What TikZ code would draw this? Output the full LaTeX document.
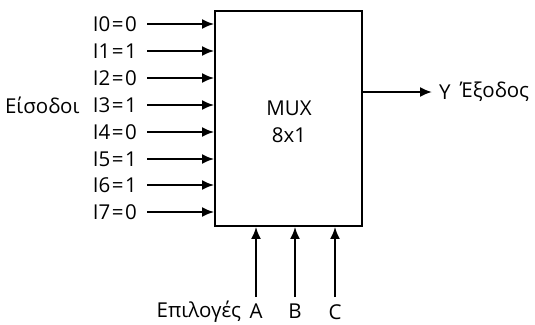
\documentclass[tikz,border=0pt]{standalone}
\usepackage{fontspec}
\setmainfont{Open Sans}
\usetikzlibrary{arrows.meta,positioning}

\begin{document}
\begin{tikzpicture}[
  x=1pt,y=-1pt,
  lbl/.style={inner sep=0pt,font=\fontsize{20.5}{23}\selectfont},
  inp/.style={lbl,anchor=east},
  sel/.style={lbl,anchor=north},
  arr/.style={line width=1.9pt,-{Latex[length=12pt,width=10pt]}}
]
\useasboundingbox (0,0) rectangle (535,324);
% Box
\node[draw,line width=1.9pt,minimum width=147pt,minimum height=215pt,inner sep=0pt] (mux) at (288.5,118.5) {};
\node[lbl] (name) at (289,108.5) {MUX};
\node[lbl,below=11pt of name] (size) {8x1};
% Inputs
\node[inp] (i0) at (137,24) {I0\kern1.5pt=\kern1.5pt0};
\node[inp] (i1) at (137,51) {I1\kern1.5pt=\kern1.5pt1};
\node[inp] (i2) at (137,78) {I2\kern1.5pt=\kern1.5pt0};
\node[inp] (i3) at (137,105) {I3\kern1.5pt=\kern1.5pt1};
\node[inp] (i4) at (137,132) {I4\kern1.5pt=\kern1.5pt0};
\node[inp] (i5) at (137,159) {I5\kern1.5pt=\kern1.5pt1};
\node[inp] (i6) at (137,185) {I6\kern1.5pt=\kern1.5pt1};
\node[inp] (i7) at (137,212) {I7\kern1.5pt=\kern1.5pt0};
\node[lbl,left=13pt of i3.west] (ins) {Είσοδοι};

\draw[arr] ([xshift=10pt]i0.east) -- (i0.east -| mux.west);
\draw[arr] ([xshift=10pt]i1.east) -- (i1.east -| mux.west);
\draw[arr] ([xshift=10pt]i2.east) -- (i2.east -| mux.west);
\draw[arr] ([xshift=10pt]i3.east) -- (i3.east -| mux.west);
\draw[arr] ([xshift=10pt]i4.east) -- (i4.east -| mux.west);
\draw[arr] ([xshift=10pt]i5.east) -- (i5.east -| mux.west);
\draw[arr] ([xshift=10pt]i6.east) -- (i6.east -| mux.west);
\draw[arr] ([xshift=10pt]i7.east) -- (i7.east -| mux.west);
% Output
\node[lbl,anchor=west] (y) at (439,92) {Y};
\node[lbl,right=9pt of y] (out) {Έξοδος};
\draw[arr] (y.west -| mux.east) -- ([xshift=-7pt]y.west);
% Select lines
\node[sel] (a) at (256,304) {A};
\node[sel] (b) at (295,304) {B};
\node[sel] (c) at (335,304) {C};
\node[lbl,left=8pt of a] (selname) {Επιλογές};
\draw[arr] ([yshift=7pt]a.north) -- (a.north |- mux.south);
\draw[arr] ([yshift=7pt]b.north) -- (b.north |- mux.south);
\draw[arr] ([yshift=7pt]c.north) -- (c.north |- mux.south);
\end{tikzpicture}
\end{document}
